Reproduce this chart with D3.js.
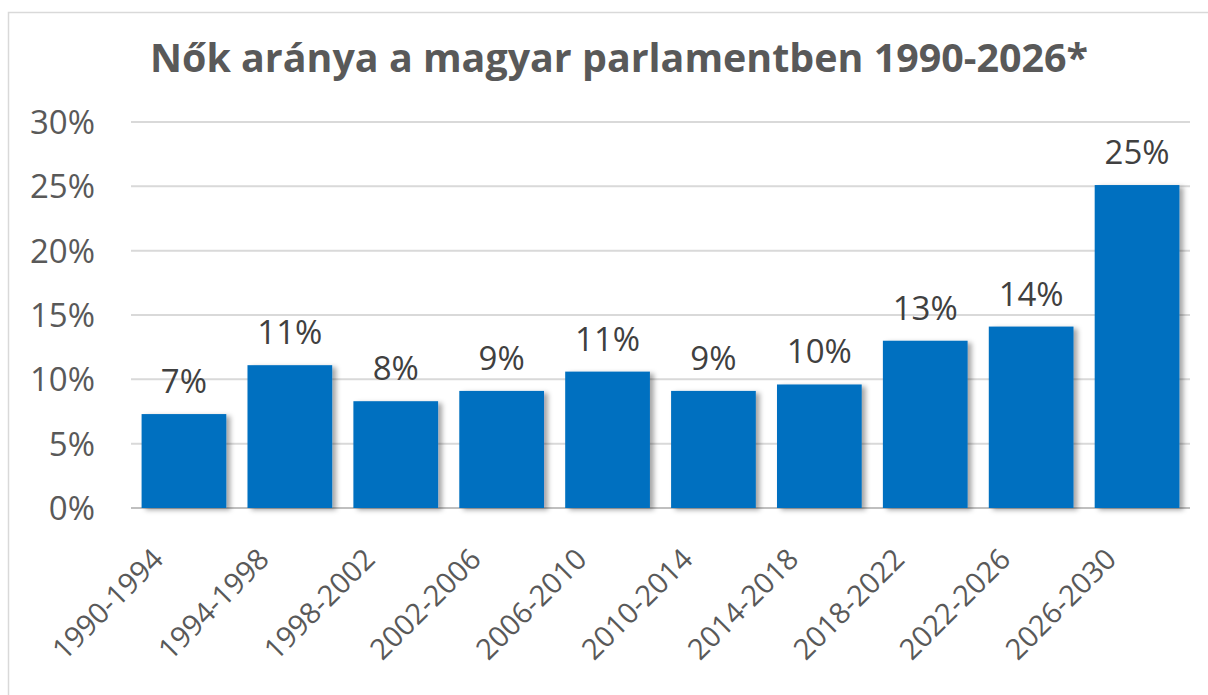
<html><head><meta charset="utf-8"><title>Nők aránya a magyar parlamentben</title>
<style>
body { margin: 0; background: #fff; }
text { font-family: "Open Sans", sans-serif; }
</style>
<script src="https://d3js.org/d3.v7.min.js"></script>
</head>
<body>
<div id="chart"></div>
<script>
// data
const periods = ["1990-1994", "1994-1998", "1998-2002", "2002-2006", "2006-2010",
                 "2010-2014", "2014-2018", "2018-2022", "2022-2026", "2026-2030"];
const shares = [7.3, 11.1, 8.3, 9.1, 10.6, 9.1, 9.6, 13.0, 14.1, 25.1];
const yTicks = [0, 5, 10, 15, 20, 25, 30];
const title = "Nők aránya a magyar parlamentben 1990-2026*";

const width = 1208;
const height = 695;

const svg = d3.select("#chart")
    .append("svg")
    .attr("width", width)
    .attr("height", height);

// soft shadow under the bars
const defs = svg.append("defs");
const f = defs.append("filter").attr("id", "shadow")
    .attr("x", "-10%").attr("y", "-10%").attr("width", "130%").attr("height", "130%");
f.append("feDropShadow")
    .attr("dx", 4).attr("dy", 2)
    .attr("stdDeviation", 2.5)
    .attr("flood-color", "#000")
    .attr("flood-opacity", 0.35);

// chart border
svg.append("rect")
    .attr("x", 8.5).attr("y", 12.5)
    .attr("width", width).attr("height", height)
    .attr("fill", "none")
    .attr("stroke", "#d9d9d9")
    .attr("stroke-width", 1.5);

const x = d3.scaleBand()
    .domain(periods)
    .range([131, 1190])
    .paddingInner(0.2)
    .paddingOuter(0.1);

const y = d3.scaleLinear()
    .domain([0, 30])
    .range([508, 122]);

// gridlines
svg.append("g")
    .selectAll("line")
    .data(yTicks)
    .join("line")
    .attr("x1", 131).attr("x2", 1190)
    .attr("y1", d => y(d)).attr("y2", d => y(d))
    .attr("stroke", d => d === 0 ? "#bfbfbf" : "#d9d9d9")
    .attr("stroke-width", 2);

// y axis labels
svg.append("g")
    .selectAll("text")
    .data(yTicks)
    .join("text")
    .attr("x", 95)
    .attr("y", d => y(d) + 12)
    .attr("text-anchor", "end")
    .attr("font-size", 33)
    .attr("fill", "#595959")
    .text(d => d + "%");

// bars
svg.append("g")
    .selectAll("rect")
    .data(shares)
    .join("rect")
    .attr("x", (d, i) => x(periods[i]))
    .attr("y", d => y(d))
    .attr("width", x.bandwidth())
    .attr("height", d => y(0) - y(d))
    .attr("fill", "#0070c0")
    .attr("filter", "url(#shadow)");

// value labels
svg.append("g")
    .selectAll("text")
    .data(shares)
    .join("text")
    .attr("x", (d, i) => x(periods[i]) + x.bandwidth() / 2)
    .attr("y", d => y(d) - 21)
    .attr("text-anchor", "middle")
    .attr("font-size", 33)
    .attr("fill", "#404040")
    .text(d => Math.round(d) + "%");

// category labels, rotated
svg.append("g")
    .selectAll("text")
    .data(periods)
    .join("text")
    .attr("transform", d => `translate(${x(d) + x.bandwidth() / 2 - 19}, 561) rotate(-45)`)
    .attr("text-anchor", "end")
    .attr("font-size", 29)
    .attr("fill", "#595959")
    .text(d => d);

// title
svg.append("text")
    .attr("x", 619)
    .attr("y", 72)
    .attr("text-anchor", "middle")
    .attr("font-family", "Roboto, sans-serif")
    .attr("font-weight", "bold")
    .attr("font-size", 40)
    .attr("fill", "#595959")
    .attr("textLength", 938)
    .attr("lengthAdjust", "spacingAndGlyphs")
    .text(title);
</script>
</body></html>
